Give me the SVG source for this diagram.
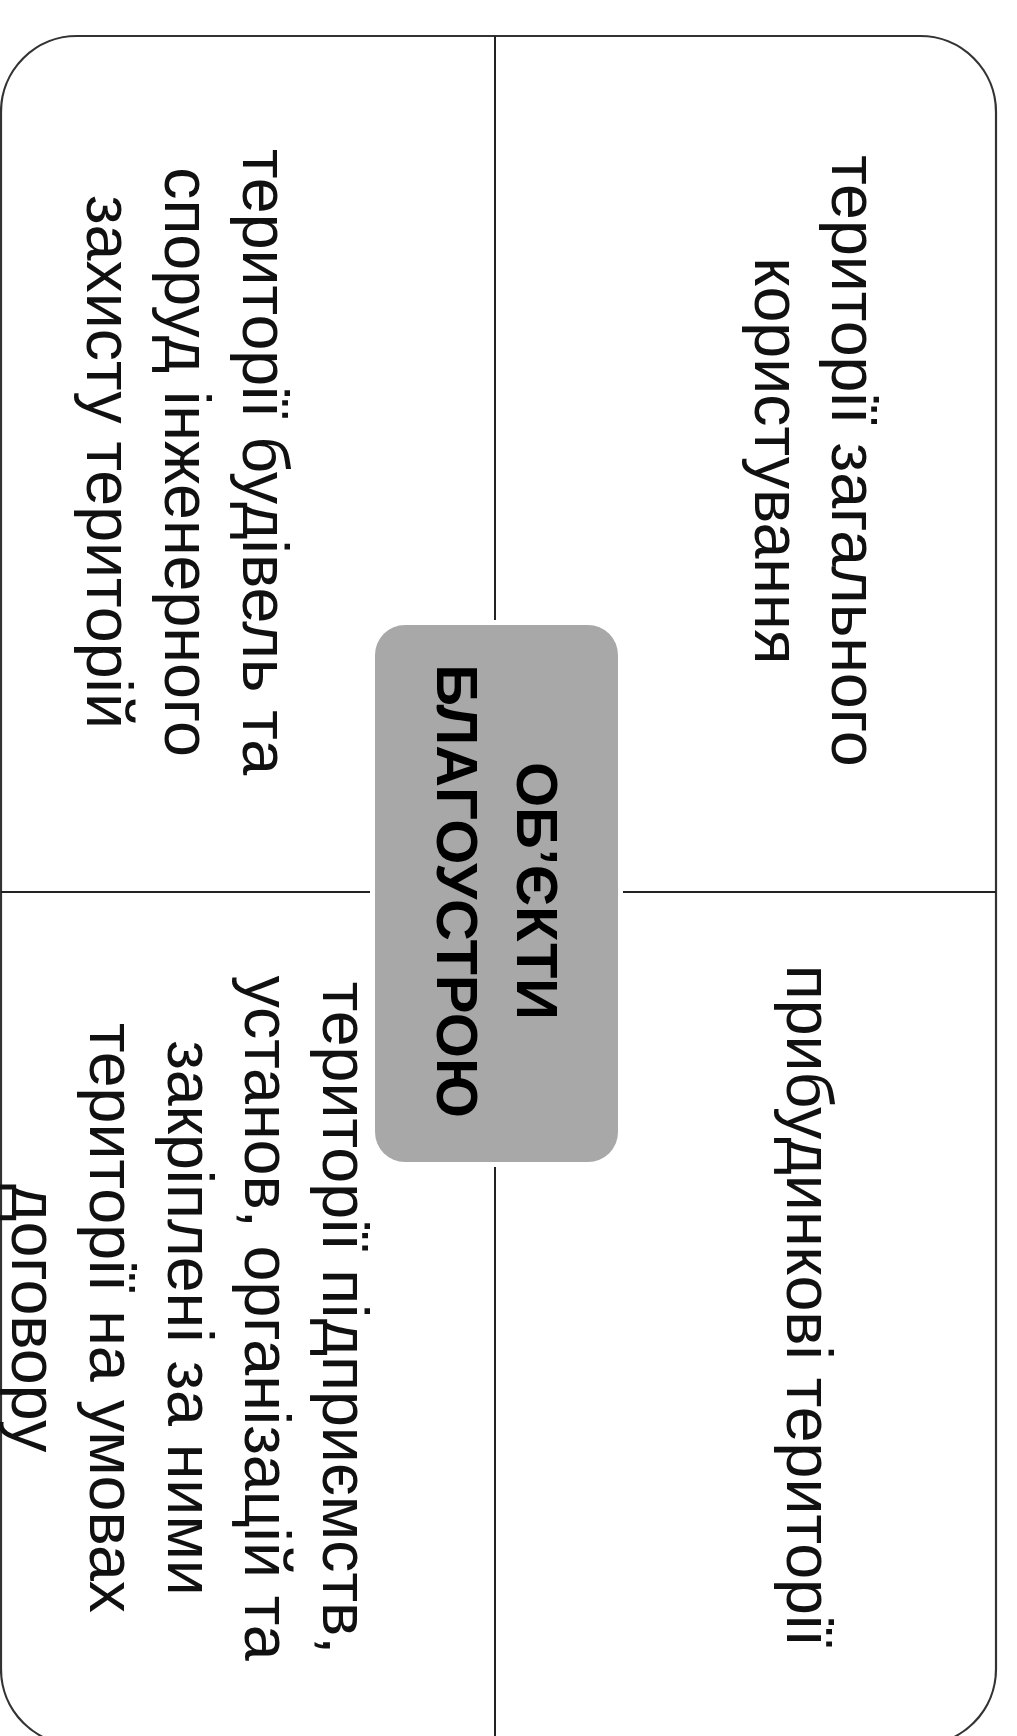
<svg xmlns="http://www.w3.org/2000/svg" width="1017" height="1736" viewBox="0 0 1017 1736">
  <style>
    .frame { fill: #ffffff; stroke: #333333; stroke-width: 2.2; }
    .line { stroke: #222222; stroke-width: 2; fill: none; }
    .center { fill: #a8a8a8; stroke: none; }
    .txt { font-family: "Liberation Sans", Arial, sans-serif; font-size: 64.5px; fill: #111111; text-anchor: middle; }
    .title { font-family: "Liberation Sans", Arial, sans-serif; font-size: 58px; font-weight: bold; fill: #000000; text-anchor: middle; }
  </style>
  <rect x="0" y="0" width="1017" height="1736" fill="#ffffff"/>
  <g id="frame">
    <rect class="frame" x="1" y="36" width="995" height="1709" rx="76" ry="76"/>
  </g>
  <g id="connectors">
    <line class="line" x1="495" y1="36" x2="495" y2="620"/>
    <line class="line" x1="495" y1="1167" x2="495" y2="1745"/>
    <line class="line" x1="1" y1="892" x2="370" y2="892"/>
    <line class="line" x1="623" y1="892" x2="996" y2="892"/>
  </g>
  <g id="node-center">
    <rect class="center" x="375" y="625" width="243" height="537" rx="30" ry="30"/>
    <g transform="rotate(90)">
      <text class="title" x="891" y="-517">ОБ’ЄКТИ</text>
      <text class="title" x="891" y="-437">БЛАГОУСТРОЮ</text>
    </g>
  </g>
  <g id="node-general">
    <g transform="rotate(90)">
      <text class="txt" x="461" y="-832">території загального</text>
      <text class="txt" x="461" y="-755">користування</text>
    </g>
  </g>
  <g id="node-buildings">
    <g transform="rotate(90)">
      <text class="txt" x="462" y="-243">території будівель та</text>
      <text class="txt" x="462" y="-165">споруд інженерного</text>
      <text class="txt" x="462" y="-87">захисту територій</text>
    </g>
  </g>
  <g id="node-adjacent">
    <g transform="rotate(90)">
      <text class="txt" x="1306" y="-787">прибудинкові території</text>
    </g>
  </g>
  <g id="node-enterprises">
    <g transform="rotate(90)">
      <text class="txt" x="1318" y="-323">території підприємств,</text>
      <text class="txt" x="1318" y="-245">установ, організацій та</text>
      <text class="txt" x="1318" y="-168">закріплені за ними</text>
      <text class="txt" x="1318" y="-90">території на умовах</text>
      <text class="txt" x="1318" y="-12">договору</text>
    </g>
  </g>
</svg>
